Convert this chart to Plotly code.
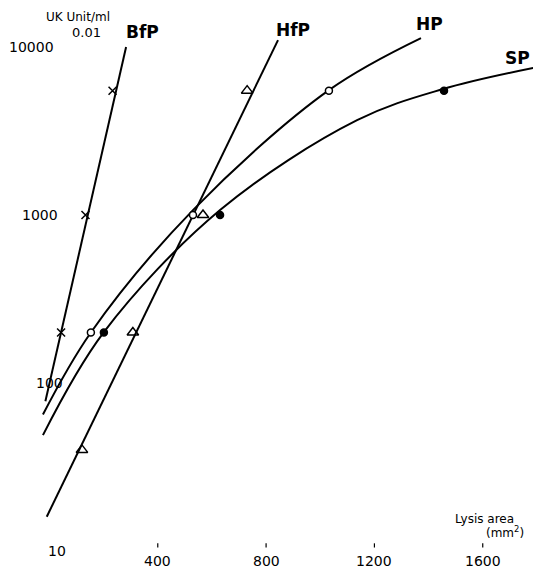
import math
import plotly.graph_objects as go

# ---- tick values / labels ----
y_ticks = [10000, 1000, 100, 10]
y_tick_labels = ["10000", "1000", "100", "10"]
x_ticks = [400, 800, 1200, 1600]
x_tick_labels = ["400", "800", "1200", "1600"]

# ---- measured points (UK Unit/ml vs lysis area, mm2) ----
bfp_x = [43, 133, 233]
bfp_y = [200, 1000, 5500]
hfp_x = [120, 308, 567, 730]
hfp_y = [40, 200, 1000, 5500]
hp_x = [153, 530, 1032]
hp_y = [200, 1000, 5500]
sp_x = [201, 630, 1457]
sp_y = [200, 1000, 5500]

# ---- drawn lines / curves ----
bfp_line_x = [-15, 283]
bfp_line_y = [78, 10000]
hfp_line_x = [-10, 844]
hfp_line_y = [16, 11000]
hp_curve_x = [-24, 153, 530, 1032, 1372]
hp_curve_y = [65, 200, 1070, 5540, 11300]
sp_curve_x = [-24, 201, 630, 1136, 1453, 1786]
sp_curve_y = [49, 201, 1070, 3670, 5620, 7500]

W, H = 533, 568
FONT = "DejaVu Sans"
LW = 2

fig = go.Figure()

def line(x, y, shape="linear"):
    ln = dict(color="black", width=LW, shape=shape)
    if shape == "spline":
        ln["smoothing"] = 1.0
    fig.add_trace(go.Scatter(x=x, y=y, mode="lines", line=ln, hoverinfo="skip", showlegend=False))

line(bfp_line_x, bfp_line_y)
line(hfp_line_x, hfp_line_y)
line(hp_curve_x, hp_curve_y, "spline")
line(sp_curve_x, sp_curve_y, "spline")

def marks(x, y, symbol, size, fill="white"):
    fig.add_trace(go.Scatter(x=x, y=y, mode="markers", cliponaxis=False,
                             marker=dict(symbol=symbol, size=size, color=fill,
                                         line=dict(color="black", width=1.5)),
                             showlegend=False))

marks(bfp_x, bfp_y, "x-thin", 8, "black")
marks(hfp_x, hfp_y, "triangle-up-open", 10, "black")
marks(hp_x, hp_y, "circle", 7, "white")
marks(sp_x, sp_y, "circle", 7, "black")

# tiny tick marks on the x axis (drawn at y = 10 level)
fig.add_trace(go.Scatter(x=x_ticks, y=[10.8] * len(x_ticks), mode="markers",
                         marker=dict(symbol="line-ns", size=3, line=dict(color="black", width=1.2)),
                         showlegend=False, hoverinfo="skip"))

ann = []
y_label_xshift = [-21, -12, -3, 5]
for v, t, s in zip(y_ticks, y_tick_labels, y_label_xshift):
    ann.append(dict(x=10, y=math.log10(v), xref="x", yref="y", text=t, showarrow=False,
                    xshift=s, xanchor="center", yanchor="middle",
                    font=dict(family=FONT, size=14, color="black")))
for v, t in zip(x_ticks, x_tick_labels):
    ann.append(dict(x=v, y=math.log10(10), xref="x", yref="y", text=t, showarrow=False,
                    yshift=-10, xanchor="center", yanchor="middle",
                    font=dict(family=FONT, size=14, color="black")))

def txt(px, py, text, size, bold=False):
    return dict(x=px / W, y=1 - py / H, xref="paper", yref="paper",
                text=("<b>%s</b>" % text) if bold else text,
                showarrow=False, xanchor="center", yanchor="middle",
                font=dict(family=FONT, size=size, color="black"))

ann += [
    txt(78, 17, "UK Unit/ml", 12),
    txt(86, 32, "0.01", 13),
    txt(142, 32, "BfP", 17, True),
    txt(293, 30, "HfP", 17, True),
    txt(429, 24, "HP", 17, True),
    txt(517, 58, "SP", 17, True),
    txt(484, 519, "Lysis area", 12),
    txt(505, 532, "(mm<sup>2</sup>)", 12),
]

fig.update_layout(
    width=W, height=H, margin=dict(l=0, r=0, t=0, b=0, pad=0),
    paper_bgcolor="white", plot_bgcolor="white",
    xaxis=dict(range=[-182.6, 1785.6], showgrid=False, zeroline=False, showticklabels=False,
               showline=False, ticks=""),
    yaxis=dict(type="log", range=[0.899, 4.280], showgrid=False, zeroline=False,
               showticklabels=False, showline=False, ticks=""),
    annotations=ann,
)

fig.write_html("out.html", config={"displayModeBar": False},
               post_script="document.body.style.margin='0';document.body.style.padding='0';")
